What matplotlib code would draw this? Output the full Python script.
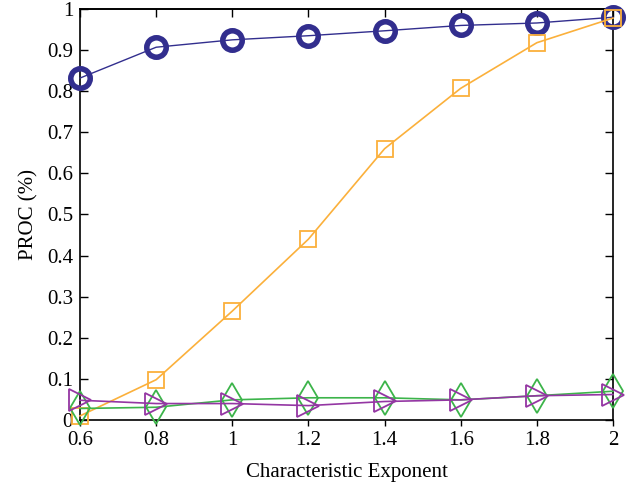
import matplotlib
matplotlib.use("Agg")
import matplotlib.pyplot as plt

x = [0.6, 0.8, 1.0, 1.2, 1.4, 1.6, 1.8, 2.0]
blue = [0.832, 0.907, 0.925, 0.935, 0.947, 0.960, 0.966, 0.980]
orange = [0.010, 0.098, 0.265, 0.440, 0.660, 0.807, 0.918, 0.978]
green = [0.028, 0.031, 0.049, 0.054, 0.054, 0.049, 0.059, 0.070]
purple = [0.048, 0.040, 0.040, 0.035, 0.045, 0.049, 0.059, 0.062]

xticks = [0.6, 0.8, 1.0, 1.2, 1.4, 1.6, 1.8, 2.0]
xticklabels = ["0.6", "0.8", "1", "1.2", "1.4", "1.6", "1.8", "2"]
yticks = [0, 0.1, 0.2, 0.3, 0.4, 0.5, 0.6, 0.7, 0.8, 0.9, 1.0]
yticklabels = ["0", "0.1", "0.2", "0.3", "0.4", "0.5", "0.6", "0.7", "0.8", "0.9", "1"]

plt.rcParams['font.family'] = ['Liberation Serif', 'DejaVu Serif']

fig = plt.figure(figsize=(6.41, 4.87), dpi=100)
ax = fig.add_axes([0.1248, 0.1376, 0.8315, 0.8439])

ax.plot(x, blue, color='#322e8e', lw=1.0, marker='o', ms=14, mfc='none', mew=4, zorder=3, clip_on=False)
ax.plot(x, orange, color='#fbb03b', lw=1.2, marker='s', ms=12, mfc='none', mew=1.3, zorder=3, clip_on=False)
ax.plot(x, green, color='#3cb44a', lw=1.2, marker='d', ms=17, mfc='none', mew=1.3, zorder=3, clip_on=False)
ax.plot(x, purple, color='#9436a3', lw=1.2, marker='>', ms=16, mfc='none', mew=1.3, zorder=3, clip_on=False)

ax.set_xlim(0.6, 2.0)
ax.set_ylim(0, 1.0)
ax.set_xticks(xticks)
ax.set_xticklabels(xticklabels)
ax.set_yticks(yticks)
ax.set_yticklabels(yticklabels)
ax.tick_params(axis='y', direction='in', left=True, right=True, length=6, width=1, labelsize=15, pad=5)
ax.tick_params(axis='x', direction='out', bottom=True, top=False, length=4, width=1, labelsize=15, pad=4)
sec = ax.secondary_xaxis('top')
sec.set_xticks(xticks)
sec.tick_params(axis='x', direction='in', length=6, width=1, labeltop=False)
for s in list(ax.spines.values()) + list(sec.spines.values()):
    s.set_linewidth(1.2)
ax.set_xlabel("Characteristic Exponent", fontsize=15, labelpad=9)
ax.set_ylabel("PROC (%)", fontsize=15, labelpad=6)

fig.savefig("out.png", dpi=100)
